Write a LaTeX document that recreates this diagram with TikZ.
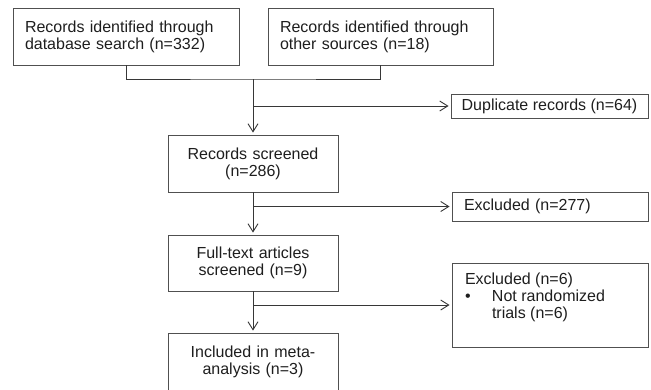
\documentclass[tikz,border=0pt]{standalone}
\usepackage{fontspec}
\setmainfont{Liberation Sans}
\usepackage{xcolor}
\usepackage{tikz}
\usetikzlibrary{arrows.meta, positioning, calc}
\definecolor{PRISMALine}{RGB}{55, 55, 55}
\definecolor{PRISMABorder}{RGB}{80, 80, 80}
\definecolor{PRISMAText}{RGB}{30, 30, 30}

\begin{document}
\begin{tikzpicture}[x=1pt, y=-1pt,
    box/.style={draw=PRISMABorder, line width=0.9pt, inner xsep=12pt, inner ysep=0pt,
      font=\fontsize{16}{17}\selectfont, text=PRISMAText},
    leftbox/.style={box, align=left},
    midbox/.style={box, align=center, minimum width=170pt, minimum height=57pt, text width=146pt},
    flow/.style={draw=PRISMALine, line width=0.9pt},
    flowarrow/.style={flow, shorten >=2pt, -{Straight Barb[length=8pt, width=10pt]}}]
  \useasboundingbox (0,0) rectangle (651,389);

  % identification
  \node[leftbox, minimum width=226pt, minimum height=57pt, text width=202pt] (dbsearch) at (126,36.5)
    {Records identified through\\database search (n=332)};
  \node[leftbox, minimum width=225pt, minimum height=57pt, text width=201pt] (othersrc) at (380.5,36.5)
    {Records identified through\\other sources (n=18)};
  \node[box, inner xsep=0pt, minimum width=197pt, minimum height=24pt] (duplicates) at (549.5,106)
    {Duplicate records (n=64)};

  % screening
  \node[midbox] (screened) at (253,163.5) {Records screened\\(n=286)};
  \node[leftbox, minimum width=196pt, minimum height=29pt, text width=172pt] (excludedA) at (550,206.5)
    {Excluded (n=277)};

  % eligibility
  \node[midbox, minimum height=56pt] (fulltext) at (253,263) {Full-text articles\\screened (n=9)};
  \node[box, inner xsep=13pt, inner ysep=10pt] (excludedB) at (550,305)
    {\parbox[c][64pt][t]{170pt}{\raggedright Excluded (n=6)\\
      \makebox[27pt][l]{\textbullet}\parbox[t]{140pt}{Not randomized\\trials (n=6)}}};

  % included
  \node[midbox] (included) at (253,361.5) {Included in meta-\\analysis (n=3)};

  \coordinate (merge) at (253,79);
  \draw[flow] (dbsearch.south) |- (merge) -| (othersrc.south);
  \draw[flowarrow] (merge) -- (screened);
  \draw[flowarrow] (merge |- duplicates.west) -- (duplicates.west);
  \draw[flowarrow] (screened) -- (fulltext);
  \draw[flowarrow] (screened.south |- excludedA.west) -- (excludedA.west);
  \draw[flowarrow] (fulltext) -- (included);
  \draw[flowarrow] (fulltext.south |- excludedB.west) -- (excludedB.west);
\end{tikzpicture}
\end{document}
